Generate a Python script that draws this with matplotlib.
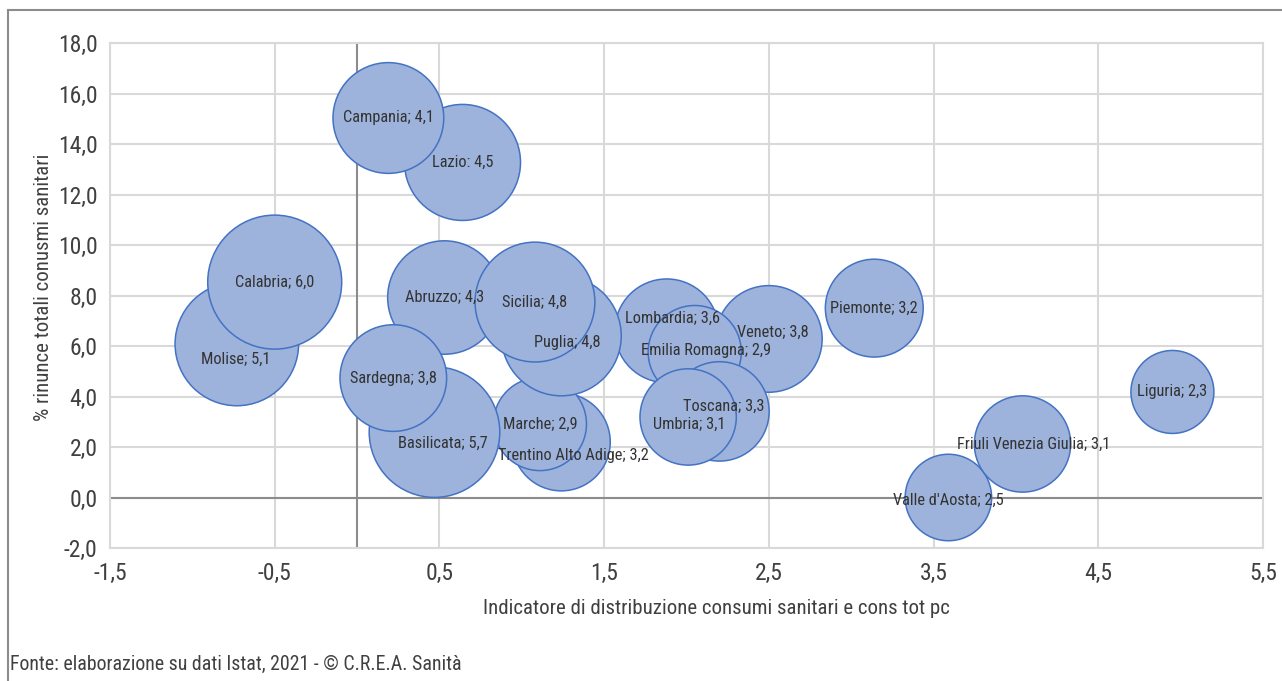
import matplotlib
matplotlib.use("Agg")
import matplotlib.pyplot as plt
from matplotlib.lines import Line2D

plt.rcParams['font.family'] = ['Roboto Condensed', 'DejaVu Sans']
plt.rcParams['font.stretch'] = 'condensed'

regions = ["Piemonte", "Valle d'Aosta", "Lombardia", "Trentino Alto Adige", "Veneto",
           "Friuli Venezia Giulia", "Liguria", "Emilia Romagna", "Toscana", "Umbria",
           "Marche", "Lazio", "Abruzzo", "Molise", "Campania", "Puglia", "Basilicata",
           "Calabria", "Sicilia", "Sardegna"]
x_vals = [3.14, 3.59, 1.88, 1.24, 2.50, 4.04, 4.95, 2.05, 2.20, 2.01,
          1.11, 0.64, 0.53, -0.73, 0.19, 1.24, 0.47, -0.50, 1.08, 0.22]
y_vals = [7.50, 0.00, 6.60, 2.20, 6.28, 2.12, 4.18, 5.76, 3.41, 3.19,
          2.91, 13.27, 7.92, 6.08, 15.03, 6.40, 2.59, 8.53, 7.74, 4.73]
sizes = [3.2, 2.5, 3.6, 3.2, 3.8, 3.1, 2.3, 2.9, 3.3, 3.1,
         2.9, 4.5, 4.3, 5.1, 4.1, 4.8, 5.7, 6.0, 4.8, 3.8]
size_labels = ["3,2", "2,5", "3,6", "3,2", "3,8", "3,1", "2,3", "2,9", "3,3", "3,1",
               "2,9", "4,5", "4,3", "5,1", "4,1", "4,8", "5,7", "6,0", "4,8", "3,8"]
separators = {"Lazio": ": "}

x_ticks = [-1.5, -0.5, 0.5, 1.5, 2.5, 3.5, 4.5, 5.5]
x_ticklabels = ["-1,5", "-0,5", "0,5", "1,5", "2,5", "3,5", "4,5", "5,5"]
y_ticks = [-2, 0, 2, 4, 6, 8, 10, 12, 14, 16, 18]
y_ticklabels = ["-2,0", "0,0", "2,0", "4,0", "6,0", "8,0", "10,0", "12,0", "14,0", "16,0", "18,0"]

x_title = "Indicatore di distribuzione consumi sanitari e cons tot pc"
y_title = "% rinunce totali conusmi sanitari"
source = "Fonte: elaborazione su dati Istat, 2021 - \u00a9 C.R.E.A. Sanit\u00e0"

# label nudges in points (manual placement in the original)
label_offsets = {"Molise": (-1, -11), "Basilicata": (6, -8), "Lombardia": (4, 9),
                 "Trentino Alto Adige": (9, -10), "Friuli Venezia Giulia": (8, 0),
                 "Umbria": (1, -5), "Toscana": (3, 4), "Puglia": (4, -5),
                 "Valle d'Aosta": (0, -2), "Emilia Romagna": (8, 1), "Veneto": (3, 4.5)}

W, H = 1282, 681
fig = plt.figure(figsize=(W / 100, H / 100), dpi=100)
ax = fig.add_axes([110 / W, 1 - 548 / H, (1263 - 110) / W, (548 - 43) / H])

grid_c = "#d9d9d9"
ax.set_xlim(-1.5, 5.5)
ax.set_ylim(-2, 18)
ax.set_xticks(x_ticks)
ax.set_xticklabels(x_ticklabels)
ax.set_yticks(y_ticks)
ax.set_yticklabels(y_ticklabels)
ax.grid(True, color=grid_c, linewidth=1.5, zorder=0)
ax.set_axisbelow(True)
for s in ax.spines.values():
    s.set_color(grid_c)
    s.set_linewidth(1.5)
ax.tick_params(length=0, labelsize=17, colors="#404040", pad=9)
ax.tick_params(axis='x', pad=10)
ax.axvline(0, color="#8c8c8c", linewidth=1.5, zorder=1)
ax.axhline(0, color="#8c8c8c", linewidth=1.5, zorder=1)

k = (2 * 27.35 * 0.72) ** 2
ax.scatter(x_vals, y_vals, s=[k * v for v in sizes], facecolor="#9db3db",
           edgecolor="#4472c4", linewidth=1.1, zorder=3)

for name, xv, yv, sl in zip(regions, x_vals, y_vals, size_labels):
    sep = separators.get(name, "; ")
    off = label_offsets.get(name, (0, 0))
    ax.annotate(f"{name}{sep}{sl}", (xv, yv), xytext=off, textcoords="offset points",
                ha="center", va="center", fontsize=11.8, color="#333333", zorder=5)

fig.text(716 / W, 1 - 608 / H, x_title, ha="center", va="center", fontsize=15, color="#404040")
fig.text(44 / W, 1 - 287 / H, y_title, ha="center", va="center", rotation=90, fontsize=15, color="#404040")
fig.text(10 / W, 1 - 664 / H, source, ha="left", va="center", fontsize=14.3, color="#404040")

fig.add_artist(Line2D([8 / W, 8 / W], [0, 1 - 10 / H], color="#8c8c8c", linewidth=1.5))
fig.add_artist(Line2D([8 / W, 1], [1 - 10 / H, 1 - 10 / H], color="#8c8c8c", linewidth=1.5))

fig.savefig("out.png", dpi=100, facecolor="white")
